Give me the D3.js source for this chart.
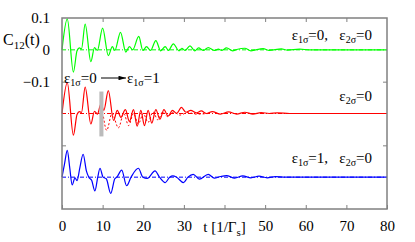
<!DOCTYPE html>
<html lang="en">
<head>
    <script type="text/javascript" src="https://cdn.jsdelivr.net/npm/d3@7/dist/d3.min.js"></script>
    <meta charset="UTF-8">
    <title>C12(t)</title>
    <style>
        body { margin: 0; background: #fff; }
        svg text { font-family: "Liberation Serif", "DejaVu Serif", "Times New Roman", serif; fill: #000; }
    </style>
</head>
<body>
<script>
    // [t, C12], relative to each curve's own zero line
    var greenPts = [[0,0],[1.3,0.097],[2.8,-0.07],[3.7,-0.003],[4.3,0.006],[4.8,0.003],[5.7,0.081],[7.1,-0.037],
        [8.0,0.007],[8.7,-0.002],[10.0,0.068],[11.4,-0.018],[12.4,0.01],[13.0,-0.002],[14.4,0.055],[15.7,-0.007],
        [16.6,0.01],[17.4,0.0],[18.9,0.042],[19.9,-0.002],[20.8,0.01],[21.8,-0.002],[23.1,0.029],[24.3,-0.003],
        [25.4,0.01],[26.2,-0.002],[27.4,0.019],[28.8,-0.003],[29.5,0.005],[30.3,-0.002],[31.5,0.0125],[32.7,-0.003],
        [33.6,0.006],[34.8,-0.002],[36,0.007],[37.5,-0.002],[38.5,0.002],[39.3,-0.002],[40.5,0.006],[42,-0.003],
        [43,0.001],[45,0.005],[46.5,-0.003],[49.5,0.004],[51,-0.002],[54,0.003],[55.5,-0.001],[58.5,0.002],[61,0],[80,0]];

    var redPts = [[0,0],[1.3,0.097],[2.8,-0.068],[3.7,-0.003],[4.3,0.006],[4.8,0.003],[5.7,0.083],[7.1,-0.033],
        [8.0,0.007],[8.7,-0.002],[9.6,0.03],[10.3,0.01],[11.4,0.072],[12.7,-0.022],[13.6,0.01],[14.5,-0.012],
        [15.6,0.012],[16.6,-0.025],[17.6,0.012],[18.5,-0.04],[19.4,0.01],[20.3,-0.038],[21.2,0.01],[22.1,-0.03],
        [23.1,0.012],[24.1,-0.018],[25.1,0.012],[26.1,-0.008],[27.2,0.01],[28.2,0.0],[29.4,0.019],[30.5,0.004],
        [31.7,0.01],[33,0.002],[34.3,0.008],[35.5,0],[37,0.006],[39,-0.002],[41,0.005],[43,-0.002],[45,0.004],
        [47,-0.002],[49,0.003],[51,0],[53,0.002],[56,0],[80,0]];

    var redDotPts = [[10.2,-0.01],[11.0,-0.053],[12.3,0.0],[13.9,-0.045],[15.2,0.0],[16.4,-0.038],[17.6,0.0],
        [18.8,-0.033],[20,0.0],[21.2,-0.028],[22.4,0.005],[23.6,-0.02],[24.8,0.005],[26,-0.01],[27.5,0.005],
        [29,-0.005],[31,0.003],[33,-0.002],[36,0]];

    var bluePts = [[0,0],[0.6,0.04],[1.3,0.084],[1.9,0.03],[2.5,-0.024],[3.2,-0.002],[3.7,-0.011],[4.4,0.03],
        [5.2,0.072],[6,0.02],[6.6,0.0],[7.3,-0.01],[8.1,-0.043],[8.8,0.0],[9.35,0.028],[10.1,0.0],[10.9,-0.005],
        [12,-0.051],[13,-0.005],[13.5,0.0],[14.7,0.022],[15.9,-0.027],[17,0.0],[18.8,0.028],[19.9,0.0],[21,-0.004],
        [22.9,0.02],[24,0.0],[25.4,-0.017],[26.5,0.0],[27.3,0.004],[28.2,0],[29.9,-0.017],[31,0],[32.3,0.009],
        [33.8,-0.006],[36,0.009],[37.5,-0.003],[39,0.002],[40.5,0.005],[42.5,-0.003],[44.5,0.004],[46.5,-0.002],
        [48.5,0.003],[50.5,-0.002],[52.5,0.002],[55,0],[80,0]];

    var offsets = [0, -0.2, -0.4];          // green, red, blue zero lines
    var switchSpan = [9.2, 10.2];           // grey bar, t range
    var xTicks = [0, 10, 20, 30, 40, 50, 60, 70, 80];
    var yLabels = [0.1, 0, -0.1];
    var yMarks = [-0.1, -0.3];

    var svg = d3.select("body").append("svg")
        .attr("width", 415)
        .attr("height", 242);

    var x = d3.scaleLinear().domain([0, 80]).range([62, 387]);
    var y = d3.scaleLinear().domain([-0.5, 0.1]).range([209, 18]);

    var line = function(off) {
        return d3.line()
            .x(function(d){ return x(d[0]); })
            .y(function(d){ return y(d[1] + off); })
            .curve(d3.curveMonotoneX);
    };

    var colors = ["#00ff00", "#ff0000", "#0000ff"];
    var serif = "'Liberation Serif', 'DejaVu Serif', serif";

    // zero lines
    svg.selectAll("line.zero")
        .data(offsets)
        .enter().append("line")
        .attr("class", "zero")
        .attr("x1", x(0)).attr("x2", x(80))
        .attr("y1", function(d){ return y(d); })
        .attr("y2", function(d){ return y(d); })
        .style("stroke", function(d,i){ return colors[i]; })
        .style("stroke-width", 1)
        .style("stroke-dasharray", "4,2,1,2");

    svg.append("path").datum(greenPts)
        .attr("d", line(offsets[0]))
        .style("fill", "none").style("stroke", colors[0]).style("stroke-width", 1.2);

    svg.append("path").datum(redDotPts)
        .attr("d", line(offsets[1]))
        .style("fill", "none").style("stroke", colors[1]).style("stroke-width", 1)
        .style("stroke-dasharray", "2,2");

    svg.append("path").datum(redPts)
        .attr("d", line(offsets[1]))
        .style("fill", "none").style("stroke", colors[1]).style("stroke-width", 1.2);

    svg.append("path").datum(bluePts)
        .attr("d", line(offsets[2]))
        .style("fill", "none").style("stroke", colors[2]).style("stroke-width", 1.2);

    // switching bar
    svg.append("rect")
        .attr("x", x(switchSpan[0]))
        .attr("width", x(switchSpan[1]) - x(switchSpan[0]))
        .attr("y", y(offsets[1] + 0.069))
        .attr("height", y(offsets[1] - 0.072) - y(offsets[1] + 0.069))
        .style("fill", "#bbbbbb");

    // axes
    var xBottom = d3.axisBottom(x).tickValues(xTicks).tickSizeInner(-4).tickSizeOuter(0).tickPadding(11)
        .tickFormat(function(d){ return d === 40 ? "" : d; });
    var gB = svg.append("g").attr("transform", "translate(0,209)").call(xBottom);
    var xTop = d3.axisTop(x).tickValues(xTicks.slice(1, -1)).tickSizeInner(-4).tickSizeOuter(0).tickFormat("");
    var gT = svg.append("g").attr("transform", "translate(0,18)").call(xTop);
    var yLeft = d3.axisLeft(y).tickValues(yLabels).tickSize(0).tickPadding(12)
        .tickFormat(function(d){ return d === 0 ? "0" : d3.format(".1f")(d); });
    var gL = svg.append("g").attr("transform", "translate(62,0)").call(yLeft);
    var gLm = svg.append("g").attr("transform", "translate(62,0)")
        .call(d3.axisLeft(y).tickValues(yMarks).tickSizeInner(-4).tickSizeOuter(0).tickFormat(""));
    var gR = svg.append("g").attr("transform", "translate(387,0)")
        .call(d3.axisRight(y).tickValues(yMarks).tickSizeInner(-4).tickSizeOuter(0).tickFormat(""));

    [gB, gT, gL, gLm, gR].forEach(function(g){
        g.attr("font-family", serif);
        g.select(".domain").remove();
        g.selectAll("line").style("stroke", "#808080").style("stroke-width", 1);
        g.selectAll("text").style("font-family", serif).style("font-size", "15px");
    });

    svg.append("rect")
        .attr("x", 62).attr("y", 18).attr("width", 325).attr("height", 191)
        .style("fill", "none").style("stroke", "#808080").style("stroke-width", 1.5);

    // x title in place of the 40 label
    var xt = svg.append("text").attr("x", x(40)).attr("y", 232)
        .attr("text-anchor", "middle").style("font-size", "15px").style("font-family", serif);
    xt.append("tspan").text("t [1/Γ");
    xt.append("tspan").attr("dy", 4).style("font-size", "11px").text("s");
    xt.append("tspan").attr("dy", -4).text("]");

    // y title
    var yt = svg.append("text").attr("x", 3).attr("y", 45).style("font-size", "16px").style("font-family", serif);
    yt.append("tspan").text("C");
    yt.append("tspan").attr("dy", 4).style("font-size", "11px").text("12");
    yt.append("tspan").attr("dy", -4).text("(t)");

    // epsilon labels
    function eps(g, sub, val) {
        g.append("tspan").text("ε");
        g.append("tspan").attr("dy", 3).style("font-size", "10px").text(sub);
        g.append("tspan").attr("dy", -3).text(val);
    }
    function label(xp, yp, anchor) {
        return svg.append("text").attr("x", xp).attr("y", yp).attr("text-anchor", anchor)
            .style("font-size", "15px").style("font-family", serif);
    }
    var l1 = label(372, 40, "end");
    eps(l1, "1σ", "=0,\u00a0\u00a0\u00a0");
    eps(l1, "2σ", "=0");

    var l2 = label(372, 101, "end");
    eps(l2, "2σ", "=0");

    var l3 = label(372, 163, "end");
    eps(l3, "1σ", "=1,\u00a0\u00a0\u00a0");
    eps(l3, "2σ", "=0");

    var l4 = label(64, 83, "start");
    eps(l4, "1σ", "=0");
    var l5 = label(127, 83, "start");
    eps(l5, "1σ", "=1");

    svg.append("defs").append("marker")
        .attr("id", "arr").attr("viewBox", "0 0 10 6").attr("refX", 10).attr("refY", 3)
        .attr("markerWidth", 8).attr("markerHeight", 4.5).attr("orient", "auto")
        .append("path").attr("d", "M0,0L10,3L0,6Z").style("fill", "#000");
    svg.append("line")
        .attr("x1", 101).attr("x2", 126).attr("y1", 78).attr("y2", 78)
        .style("stroke", "#000").style("stroke-width", 1)
        .attr("marker-end", "url(#arr)");
</script>
</body>
</html>
